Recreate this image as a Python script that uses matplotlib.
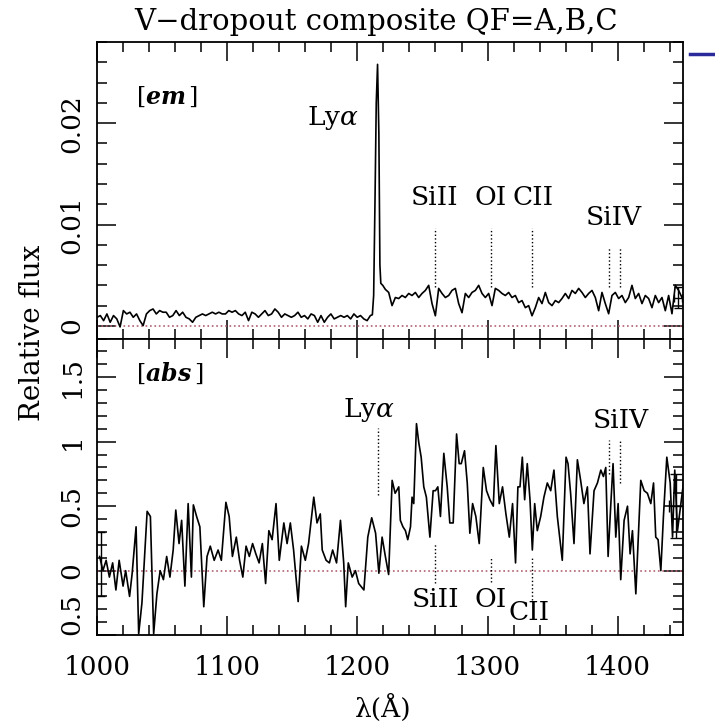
import matplotlib
matplotlib.use("Agg")
import matplotlib.pyplot as plt
import numpy as np
from matplotlib.lines import Line2D
from matplotlib.ticker import MultipleLocator

plt.rcParams['font.family'] = ['DejaVu Serif']
plt.rcParams['mathtext.fontset'] = 'dejavuserif'

# ---- emission composite (top panel) ----
# blue side of Ly-alpha, ~2.5 A sampling from 1000 to 1210
em_blue = [0.00085, 0.00102, 0.00052, 0.00118, 0.00036, 0.00102, 0.00069, -0.0001, 0.00151, 0.00118,
           0.00135, 0.00085, 0.00118, 0.00052, 0.00003, 0.00118, 0.00151, 0.00167, 0.00118, 0.00151,
           0.00135, 0.00135, 0.00085, 0.00102, 0.00151, 0.00102, 0.00135, 0.00085, 0.00069, 0.00036,
           0.00085, 0.00102, 0.00118, 0.00102, 0.00118, 0.00135, 0.00118, 0.00135, 0.00118, 0.00118,
           0.00151, 0.00135, 0.00151, 0.00118, 0.00102, 0.00135, 0.00052, 0.00135, 0.00118, 0.00085,
           0.00118, 0.00151, 0.00102, 0.00118, 0.00167, 0.00135, 0.00085, 0.00118, 0.00102, 0.00085,
           0.00102, 0.00135, 0.00085, 0.00102, 0.00069, 0.00118, 0.00102, 0.00036, 0.00102, 0.00036,
           0.00085, 0.00118, 0.00069, 0.00085, 0.00102, 0.00085, 0.00102, 0.00069, 0.00118, 0.00085,
           0.00102, 0.00069, 0.00052, 0.00102]
# Ly-alpha line profile
lya_wl = [1211.5, 1212.5, 1213.5, 1214.5, 1215.5, 1216.5, 1217.3, 1218.0, 1219.5]
lya_fx = [0.0011, 0.0030, 0.0120, 0.0220, 0.0258, 0.0190, 0.0060, 0.0042, 0.0040]
# red side, ~2.56 A sampling from 1221.5
em_red = [0.0036, 0.0033, 0.0020, 0.0028, 0.0027, 0.0030, 0.0028, 0.0032, 0.0030, 0.0033,
          0.0028, 0.0032, 0.0035, 0.0040, 0.0022, 0.0010, 0.0037, 0.0032, 0.0028, 0.0030,
          0.0035, 0.0037, 0.0022, 0.0013, 0.0032, 0.0028, 0.0033, 0.0035, 0.0040, 0.0032,
          0.0028, 0.0032, 0.0020, 0.0037, 0.0035, 0.0032, 0.0030, 0.0033, 0.0028, 0.0030,
          0.0023, 0.0025, 0.0018, 0.0020, 0.0010, 0.0018, 0.0028, 0.0022, 0.0033, 0.0023,
          0.0020, 0.0025, 0.0023, 0.0027, 0.0032, 0.0027, 0.0035, 0.0032, 0.0037, 0.0033,
          0.0028, 0.0032, 0.0035, 0.0028, 0.0015, 0.0033, 0.0022, 0.0012, 0.0030, 0.0033,
          0.0027, 0.0030, 0.0023, 0.0028, 0.0040, 0.0027, 0.0032, 0.0022, 0.0030, 0.0027,
          0.0018, 0.0030, 0.0023, 0.0028, 0.0015, 0.0030, 0.0012, 0.0040, 0.0035, 0.0028]

wl_em = np.concatenate([np.linspace(1000, 1210, len(em_blue)), lya_wl,
                        1221.5 + 2.56 * np.arange(len(em_red))])
fx_em = np.concatenate([em_blue, lya_fx, em_red])

# ---- absorption composite (bottom panel) ----
wl_abs = [1002, 1004.5, 1007, 1009.5, 1012, 1014.5, 1017, 1020, 1022, 1025, 1027, 1030, 1032, 1034.5,
          1038.5, 1041, 1043.5, 1046, 1048.5, 1051, 1053.5, 1056, 1058.5, 1060.5, 1063, 1065, 1067.5,
          1070, 1072.5, 1074, 1076.5, 1079, 1082, 1084.5, 1087, 1090, 1093, 1095.5, 1099, 1101.5,
          1104, 1107, 1109.5, 1112, 1114.5, 1117, 1119.5, 1122, 1124.5, 1127, 1129.5, 1132, 1134.5,
          1137.5, 1140, 1143.5, 1146, 1148.5, 1151, 1154.5, 1157, 1160, 1162.5, 1166.5, 1169, 1171.5,
          1173, 1176, 1178.5, 1181, 1184, 1187, 1189.5, 1191, 1193, 1196, 1198.5, 1201, 1205, 1208,
          1211, 1214, 1216.5, 1219, 1221.5, 1224, 1226.7, 1229, 1231.8, 1233, 1235, 1236.9, 1238.7,
          1240.8, 1242, 1243.3, 1245.4, 1247.2, 1249, 1251, 1253, 1255.7, 1258.2, 1260, 1261.8,
          1263.8, 1266.4, 1269, 1271, 1273.6, 1276.2, 1278.2, 1279.8, 1282.3, 1284.4, 1286.4, 1288.5,
          1291, 1293.6, 1296.7, 1299.2, 1301.8, 1304.4, 1306.4, 1309, 1311.5, 1314.1, 1316.7, 1319.2,
          1321.5, 1323.3, 1324.9, 1326.7, 1328.5, 1330.5, 1332.6, 1334.4, 1336.2, 1338.2, 1340.8,
          1343.3, 1345.9, 1348.5, 1351, 1353.6, 1357.4, 1360.3, 1361.8, 1363.8, 1366.4, 1369, 1371.5,
          1374, 1376.7, 1378.7, 1381.8, 1384.4, 1387, 1389, 1390.8, 1392.6, 1394.6, 1396.4, 1398.5,
          1400.3, 1402.3, 1404.9, 1407.5, 1409.5, 1411.3, 1413.9, 1417.7, 1420.3, 1422.8, 1425.4,
          1427.5, 1429.2, 1431, 1433.1, 1435.1, 1437.7, 1440.3, 1442.1, 1443.8, 1445.9, 1448.5, 1450.5]
fx_abs = [0.11, 0.0, 0.08, -0.05, 0.06, -0.15, 0.08, -0.12, 0.0, -0.2, -0.02, 0.34, -0.49, -0.25,
          0.46, 0.42, -0.49, -0.18, 0.0, -0.07, 0.11, -0.05, 0.16, 0.47, 0.21, 0.39, -0.12,
          0.52, -0.05, 0.51, 0.42, 0.34, -0.28, 0.11, 0.19, 0.08, 0.16, 0.08, 0.53, 0.42,
          0.11, 0.26, 0.08, -0.05, 0.19, 0.11, 0.21, 0.13, 0.06, 0.21, -0.10, 0.31, 0.24,
          0.52, 0.08, 0.37, 0.21, 0.37, 0.16, -0.24, 0.19, 0.08, 0.21, 0.57, 0.37, 0.44,
          0.16, 0.08, 0.06, 0.16, 0.06, 0.39, 0.06, -0.28, 0.06, -0.05, 0.0, -0.10, -0.15, 0.26,
          0.41, 0.29, -0.02, 0.26, 0.11, -0.03, 0.70, 0.60, 0.65, 0.39, 0.34, 0.31, 0.24,
          0.34, 0.57, 0.52, 1.14, 0.99, 0.88, 0.65, 0.57, 0.26, 0.62, 0.62, 0.65,
          0.42, 0.91, 0.65, 0.37, 0.37, 1.06, 0.83, 0.83, 0.93, 0.68, 0.29, 0.52,
          0.42, 0.21, 0.80, 0.62, 0.55, 0.50, 0.97, 0.52, 0.65, 0.44, 0.26, 0.52,
          0.06, 0.65, 0.65, 0.88, 0.55, 0.83, 0.55, 0.16, 0.52, 0.31, 0.42,
          0.57, 0.68, 0.62, 0.78, 0.42, 0.08, 0.88, 0.83, 0.60, 0.21, 0.86, 0.70,
          0.52, 0.65, 0.13, 0.62, 0.68, 0.78, 0.73, 0.80, 0.11, 0.50, 0.83, 0.26,
          0.52, -0.07, 0.39, 0.50, 0.13, 0.31, -0.18, 0.70, 0.62, 0.60, 0.52,
          0.68, 0.26, 0.24, 0.0, 0.42, 0.88, 0.68, 0.26, 0.78, 0.31, 0.52, 0.68]

# line identifications (rest wavelength, A)
em_lines = {'SiII': [1260], 'OI': [1303], 'CII': [1334], 'SiIV': [1393, 1402]}

fig = plt.figure(figsize=(7.15, 7.25), dpi=100)
gs = fig.add_gridspec(2, 1, left=0.1357, right=0.955, top=0.942, bottom=0.124, hspace=0)
ax1 = fig.add_subplot(gs[0])
ax2 = fig.add_subplot(gs[1], sharex=ax1)

fs = 19
red = '#b06070'

for ax in (ax1, ax2):
    ax.set_xlim(1000, 1450)
    ax.xaxis.set_major_locator(MultipleLocator(100))
    ax.xaxis.set_minor_locator(MultipleLocator(20))
    ax.tick_params(which='both', direction='in', top=True, right=True, width=1.1)
    ax.tick_params(which='major', length=14)
    ax.tick_params(which='minor', length=7)
    ax.tick_params(axis='y', labelrotation=90, labelsize=fs, pad=9)
    ax.tick_params(axis='x', labelsize=fs, pad=14)
    for s in ax.spines.values():
        s.set_linewidth(1.3)
    ax.axhline(0, color=red, ls=':', lw=1.2)

# top panel
ax1.plot(wl_em, fx_em, color='black', lw=1.2)
ax1.set_ylim(-0.00125, 0.028)
ax1.set_yticks([0, 0.01, 0.02])
ax1.set_yticklabels(['0', '0.01', '0.02'], va='center')
ax1.yaxis.set_minor_locator(MultipleLocator(0.002))
ax1.tick_params(axis='x', labelbottom=False)
for name, wls in em_lines.items():
    top = 0.0077 if name == 'SiIV' else 0.0097
    for w in wls:
        ax1.plot([w, w], [0.0038, top], color='black', ls=':', lw=1)
ax1.text(1259, 0.0127, 'SiII', fontsize=fs, ha='center', va='center')
ax1.text(1302, 0.0127, 'OI', fontsize=fs, ha='center', va='center')
ax1.text(1335, 0.0127, 'CII', fontsize=fs, ha='center', va='center')
ax1.text(1397, 0.0107, 'SiIV', fontsize=fs, ha='center', va='center')
ax1.text(1181.5, 0.0205, r'Ly$\alpha$', fontsize=fs, ha='center', va='center')
ax1.text(1054, 0.0226, r'$[\mathbfit{em}\,]$', fontsize=fs - 2, ha='center', va='center')
ax1.errorbar(1446, 0.0028, yerr=0.001, xerr=3, color='black', lw=1, capsize=3)

# bottom panel
ax2.plot(wl_abs, fx_abs, color='black', lw=1.2)
ax2.set_ylim(-0.5, 1.8)
ax2.set_yticks([-0.5, 0, 0.5, 1, 1.5])
ax2.set_yticklabels(['0.5', '0', '0.5', '1', '1.5'], va='center')
ax2.get_yticklabels()[0].set_va('bottom')
ax2.yaxis.set_minor_locator(MultipleLocator(0.1))
ax2.plot([1216, 1216], [0.585, 1.105], color='black', ls=':', lw=1)
ax2.plot([1393, 1393], [0.75, 1.01], color='black', ls=':', lw=1)
ax2.plot([1402, 1402], [0.68, 1.01], color='black', ls=':', lw=1)
ax2.plot([1260, 1260], [-0.095, 0.214], color='black', ls=':', lw=1)
ax2.plot([1303, 1303], [-0.085, 0.098], color='black', ls=':', lw=1)
ax2.plot([1334, 1334], [-0.227, 0.098], color='black', ls=':', lw=1)
ax2.text(1209, 1.244, r'Ly$\alpha$', fontsize=fs, ha='center', va='center')
ax2.text(1402, 1.167, 'SiIV', fontsize=fs, ha='center', va='center')
ax2.text(1260, -0.227, 'SiII', fontsize=fs, ha='center', va='center')
ax2.text(1302, -0.227, 'OI', fontsize=fs, ha='center', va='center')
ax2.text(1331.5, -0.327, 'CII', fontsize=fs, ha='center', va='center')
ax2.text(1056, 1.53, r'$[\mathbfit{abs}\,]$', fontsize=fs - 2, ha='center', va='center')
ax2.errorbar(1445, 0.5, yerr=0.25, xerr=6, color='black', lw=1, capsize=4)
ax2.errorbar(1003, 0.05, yerr=0.25, color='black', lw=1, capsize=3)

fig.text(0.526, 0.970, 'V\u2212dropout composite QF=A,B,C', fontsize=21, ha='center', va='center')
fig.text(0.045, 0.541, 'Relative flux', fontsize=20, rotation=90, ha='center', va='center')
fig.text(0.536, 0.024, '\u03bb(\u00c5)', fontsize=fs, ha='center', va='center')
fig.add_artist(Line2D([690 / 715, 1.0], [1 - 54 / 725, 1 - 54 / 725], color='#2a2a9a', lw=2.5))

fig.savefig('out.png', dpi=100)
